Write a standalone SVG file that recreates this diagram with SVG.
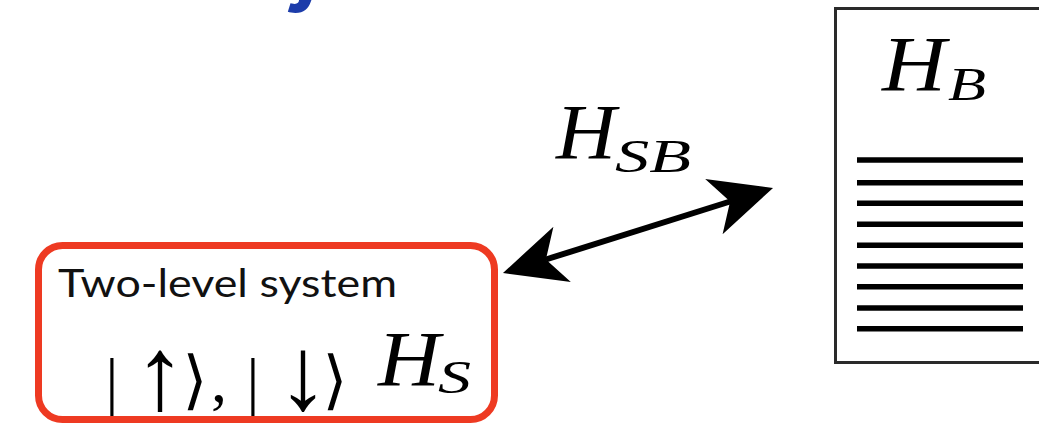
<svg xmlns="http://www.w3.org/2000/svg" width="1039" height="429" viewBox="0 0 1039 429">
<style>
.math{font-family:"Liberation Serif","DejaVu Serif",serif;font-style:italic;fill:#000}
.ket{font-family:"Liberation Serif","DejaVu Serif",serif;fill:#000;font-size:64px;text-anchor:middle}
.arr{font-size:104px}
.label{font-family:Lato,"Liberation Sans",sans-serif;fill:#111}
.level{stroke:#000;stroke-width:5.5;stroke-linecap:butt}
</style>
<defs>
<marker id="head" markerUnits="userSpaceOnUse" viewBox="-20 -32 70 64" refX="0" refY="0" markerWidth="70" markerHeight="64" orient="auto-start-reverse" overflow="visible">
<path d="M45,0 L-17,-29 L0,0 L-17,29 Z" fill="#000"/>
</marker>
</defs>
<rect width="1039" height="429" fill="#fff"/>
<g id="title-fragment">
<text x="284" y="-2" font-family="Inter,sans-serif" font-weight="800" font-size="70" fill="#1c3caa">y</text>
</g>
<g id="system">
<rect x="38.5" y="245.5" width="456" height="174" rx="24" ry="24" fill="none" stroke="#ee3a22" stroke-width="7"/>
<text class="label" x="58" y="297" font-size="38" textLength="339" lengthAdjust="spacingAndGlyphs">Two-level system</text>
<text class="ket" y="402"><tspan x="112">|</tspan><tspan class="arr" x="160" y="409">↑</tspan><tspan x="195" y="402">⟩</tspan><tspan x="219">,</tspan><tspan x="253">|</tspan><tspan class="arr" x="303" y="409">↓</tspan><tspan x="335" y="402">⟩</tspan></text>
<text class="math" x="378" y="385" font-size="78"><tspan textLength="62" lengthAdjust="spacingAndGlyphs">H</tspan><tspan x="438" y="393" font-size="47" textLength="33" lengthAdjust="spacingAndGlyphs">S</tspan></text>
</g>
<g id="bath">
<rect x="835.5" y="8.5" width="300" height="354" fill="#fff" stroke="#2a2a2a" stroke-width="3"/>
<text class="math" x="882" y="90" font-size="78"><tspan textLength="64" lengthAdjust="spacingAndGlyphs">H</tspan><tspan x="948" y="100" font-size="47" textLength="38" lengthAdjust="spacingAndGlyphs">B</tspan></text>
<g id="levels">
<line class="level" x1="857" y1="160" x2="1023" y2="160"/>
<line class="level" x1="857" y1="182.7" x2="1023" y2="182.7"/>
<line class="level" x1="857" y1="203.3" x2="1023" y2="203.3"/>
<line class="level" x1="857" y1="224.3" x2="1023" y2="224.3"/>
<line class="level" x1="857" y1="245.3" x2="1023" y2="245.3"/>
<line class="level" x1="857" y1="266" x2="1023" y2="266"/>
<line class="level" x1="857" y1="286.7" x2="1023" y2="286.7"/>
<line class="level" x1="857" y1="308" x2="1023" y2="308"/>
<line class="level" x1="857" y1="328.7" x2="1023" y2="328.7"/>
</g>
</g>
<g id="connectors">
<line x1="545.9" y1="259.5" x2="730.1" y2="201.5" stroke="#000" stroke-width="6" marker-start="url(#head)" marker-end="url(#head)"/>
<text class="math" x="556" y="158" font-size="78"><tspan textLength="60" lengthAdjust="spacingAndGlyphs">H</tspan><tspan x="615" y="172" font-size="47" textLength="76" lengthAdjust="spacingAndGlyphs">SB</tspan></text>
</g>
</svg>
